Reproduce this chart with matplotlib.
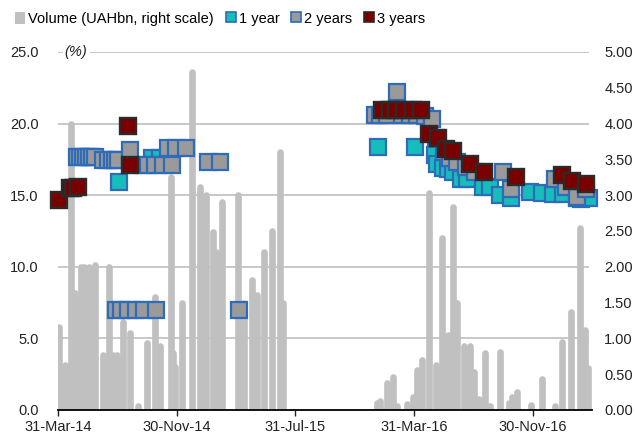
import matplotlib as mpl
from matplotlib import pyplot as plt
from matplotlib.lines import Line2D
from matplotlib.patches import Patch
import matplotlib.dates as mdates
import numpy as np
import pandas as pd

mpl.rcParams['font.family'] = ['Liberation Sans Narrow', 'Liberation Sans', 'DejaVu Sans']
mpl.rcParams['font.size'] = 10

# Volume (UAHbn, right scale)
vol_dates = ['2014-04-02', '2014-04-14', '2014-04-27', '2014-05-05', '2014-05-17', '2014-05-23',
             '2014-06-03', '2014-06-15', '2014-07-01', '2014-07-14', '2014-07-22', '2014-07-30',
             '2014-08-11', '2014-08-26', '2014-09-11', '2014-09-30', '2014-10-16', '2014-10-26',
             '2014-11-18', '2014-11-22', '2014-11-26', '2014-12-10', '2014-12-31', '2015-01-17',
             '2015-01-29', '2015-02-12', '2015-02-18', '2015-03-03', '2015-04-05', '2015-04-17',
             '2015-05-03', '2015-05-14', '2015-05-28', '2015-06-13', '2015-06-30', '2015-07-06',
             '2016-01-14', '2016-01-22', '2016-02-05', '2016-02-16', '2016-02-26', '2016-03-17',
             '2016-03-28', '2016-04-07', '2016-04-17', '2016-04-30', '2016-05-16', '2016-05-28',
             '2016-06-08', '2016-06-18', '2016-06-28', '2016-07-11', '2016-07-23', '2016-08-02',
             '2016-08-12', '2016-08-23', '2016-09-02', '2016-09-24', '2016-10-11', '2016-10-19',
             '2016-10-29', '2016-11-27', '2016-12-18', '2017-01-15', '2017-01-28', '2017-02-17',
             '2017-03-06', '2017-03-18', '2017-03-24']
vol_values = [1.16, 0.63, 4.0, 1.63, 2.0, 2.0,
              2.0, 2.03, 0.77, 2.0, 0.77, 0.77,
              1.23, 1.08, 0.05, 0.93, 1.58, 0.9,
              3.25, 0.8, 0.6, 1.5, 4.72, 3.12,
              3.0, 2.48, 2.2, 2.9, 3.0, 1.5,
              1.82, 1.6, 2.2, 2.5, 3.6, 1.5,
              0.1, 0.12, 0.38, 0.46, 0.05, 0.08,
              0.18, 0.56, 0.7, 3.03, 0.63, 2.4,
              1.05, 2.84, 1.5, 0.9, 0.9, 0.53,
              0.15, 0.8, 0.05, 0.81, 0.1, 0.18,
              0.25, 0.07, 0.43, 0.05, 0.95, 1.37,
              2.54, 1.12, 0.59]

# 1 year (%)
y1_dates = ['2014-08-03', '2014-10-10', '2014-10-26', '2016-01-16', '2016-04-02', '2016-05-13',
            '2016-05-17', '2016-05-29', '2016-06-09', '2016-06-19', '2016-07-05', '2016-07-18',
            '2016-08-19', '2016-09-03', '2016-09-23', '2016-10-16', '2016-11-24', '2016-12-19',
            '2017-01-10', '2017-01-31', '2017-02-28', '2017-03-08', '2017-03-26']
y1_values = [15.9, 17.6, 17.6, 18.35, 18.35, 17.8,
             17.2, 16.9, 16.8, 16.6, 16.1, 16.1,
             15.6, 15.6, 15.0, 14.8, 15.2, 15.15,
             15.1, 15.1, 14.8, 14.75, 14.8]

# 2 years (%)
y2_dates = ['2014-05-09', '2014-05-15', '2014-05-21', '2014-05-27', '2014-06-03', '2014-06-09',
            '2014-06-15', '2014-07-01', '2014-07-12', '2014-07-20', '2014-07-26', '2014-08-01',
            '2014-08-26', '2014-09-22', '2014-10-02', '2014-10-16', '2014-11-02', '2014-11-20',
            '2014-11-12', '2014-11-28', '2014-12-19', '2015-02-02', '2015-02-27',
            '2014-07-28', '2014-08-07', '2014-08-22', '2014-09-07', '2014-09-24', '2014-10-18',
            '2015-04-07',
            '2016-01-10', '2016-01-22', '2016-02-05', '2016-02-26', '2016-03-07', '2016-03-22',
            '2016-04-07', '2016-04-23', '2016-05-06', '2016-05-16', '2016-06-01', '2016-06-12',
            '2016-06-28', '2016-07-15', '2016-08-04', '2016-09-29', '2016-10-17', '2017-01-15',
            '2017-02-05', '2017-02-28', '2017-03-20']
y2_values = [17.7, 17.7, 17.7, 17.7, 17.7, 17.7,
             17.7, 17.45, 17.45, 17.45, 17.45, 17.45,
             18.15, 17.1, 17.1, 17.1, 17.1, 17.1,
             18.3, 18.3, 18.3, 17.3, 17.3,
             7.0, 7.0, 7.0, 7.0, 7.0, 7.0,
             7.0,
             20.6, 20.6, 20.6, 22.2, 20.6, 20.6,
             20.6, 20.5, 20.3, 19.0, 18.0, 17.6,
             17.3, 17.0, 16.6, 16.6, 15.4, 16.1,
             15.6, 14.9, 15.4]

# 3 years (%)
y3_dates = ['2014-04-02', '2014-04-25', '2014-05-01', '2014-05-11', '2014-08-22', '2014-08-26',
            '2016-01-26', '2016-02-10', '2016-02-24', '2016-03-11', '2016-03-28', '2016-04-15',
            '2016-04-30', '2016-05-20', '2016-06-04', '2016-06-18', '2016-07-23', '2016-08-21',
            '2016-10-27', '2017-01-28', '2017-02-19', '2017-03-20']
y3_values = [14.66, 15.5, 15.5, 15.6, 19.8, 17.1,
             20.95, 20.95, 20.95, 20.95, 20.95, 20.95,
             19.3, 19.0, 18.2, 18.1, 17.2, 16.6,
             16.3, 16.4, 16.0, 15.8]

x_ticks = ['2014-03-31', '2014-11-30', '2015-07-31', '2016-03-31', '2016-11-30']

fig = plt.figure(figsize=(6.35, 4.47), dpi=100)
ax = fig.add_axes([0.0913, 0.0828, 0.8407, 0.8009])
axp = ax.twinx()

# Объём - серые столбцы на правой шкале
for lvl in [1, 2, 3, 4, 5]:
    ax.axhline(lvl, color='#c8c8c8', lw=1.4, zorder=0, xmax=0.993)
bars = ax.vlines(pd.to_datetime(vol_dates), 0, vol_values, color='#c0c0c0', lw=4.8, zorder=1)
bars.set_capstyle('round')

ax.set_ylim(0, 5)
ax.set_yticks(np.arange(0, 5.01, 0.5))
ax.set_yticklabels([f'{v:.2f}' for v in np.arange(0, 5.01, 0.5)])
ax.yaxis.tick_right()
ax.tick_params(axis='y', length=0, pad=9, labelsize=10.5, colors='#222222')
ax.set_xlim(pd.Timestamp('2014-03-31'), pd.Timestamp('2017-03-31'))
ax.set_xticks(pd.to_datetime(x_ticks))
ax.xaxis.set_major_formatter(mdates.DateFormatter('%d-%b-%y'))
ax.tick_params(axis='x', length=4, width=1, direction='out', labelsize=10.5, colors='#222222', pad=3)
for s in ['top', 'left', 'right']:
    ax.spines[s].set_visible(False)
ax.spines['bottom'].set_linewidth(1.3)

# Ставки на левой шкале
axp.yaxis.tick_left()
axp.set_ylim(0, 25)
axp.set_yticks(np.arange(0, 25.1, 5))
axp.set_yticklabels([f'{v:.1f}' for v in np.arange(0, 25.1, 5)])
axp.tick_params(axis='y', length=0, pad=14, labelsize=10.5, colors='#222222')
for s in axp.spines.values():
    s.set_visible(False)

ms = 11.5
axp.plot(pd.to_datetime(y1_dates), y1_values, 's', ms=ms, mfc='#17bdbb', mec='#2e6bb8', mew=1.6, clip_on=False)
axp.plot(pd.to_datetime(y2_dates), y2_values, 's', ms=ms, mfc='#9a9a9a', mec='#2e6bb8', mew=1.6, clip_on=False)
axp.plot(pd.to_datetime(y3_dates), y3_values, 's', ms=ms, mfc='#7a0000', mec='#2b2b2b', mew=1.7, clip_on=False)

fig.text(0.102, 0.883, '(%)', style='italic', fontsize=10.5, color='#222222', va='center',
         bbox=dict(facecolor='white', edgecolor='none', pad=1.5))

# Легенда
handles = [
    Patch(facecolor='#c0c0c0', edgecolor='none'),
    Line2D([], [], ls='none', marker='s', ms=7.5, mfc='#17bdbb', mec='#2e6bb8', mew=1.2),
    Line2D([], [], ls='none', marker='s', ms=7.5, mfc='#9a9a9a', mec='#2e6bb8', mew=1.2),
    Line2D([], [], ls='none', marker='s', ms=7.5, mfc='#7a0000', mec='#2b2b2b', mew=1.2),
]
labels = ['Volume (UAHbn, right scale)', '1 year', '2 years', '3 years']
fig.legend(handles, labels, loc='center left', bbox_to_anchor=(0.003, 0.958), ncol=4, frameon=False,
           handlelength=0.7, handleheight=0.9, handletextpad=0.2, columnspacing=0.8, fontsize=10.5)

plt.savefig('out.png', dpi=100)
